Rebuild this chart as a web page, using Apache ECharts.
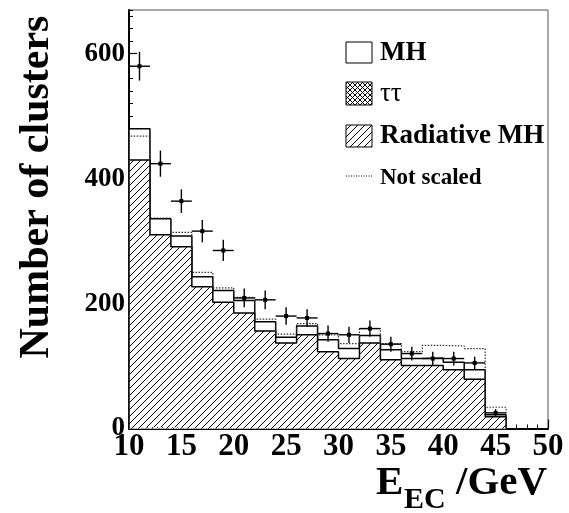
<!DOCTYPE html>
<html>
<head>
<meta charset="utf-8">
<script src="https://cdn.jsdelivr.net/npm/echarts@6/dist/echarts.min.js"></script>
<style>
html,body{margin:0;padding:0;background:#fff;}
#chart{width:569px;height:513px;}
</style>
</head>
<body>
<div id="chart"></div>
<script>
// ---- data ----
const binEdges = [10,12,14,16,18,20,22,24,26,28,30,32,34,36,38,40,42,44,46];
const stackTotal = [480,336,308,243,221,205,171,146,164,142,128,149,126,112,113,106,94,22];
const radiativeMH = [430,310,291,227,202,185,156,137,150,123,112,137,110,101,101,94,79,19];
const tautau = [2,2,1,1,1,1,1,1,1,1,1,1,1,1,1,1,1,0];
const notScaled = [468,337,314,250,225,210,175,151,168,150,136,160,136,123,133,132,128,34];
const dataCounts = [580,424,364,316,285,209,206,180,177,152,150,160,135,120,112,112,105,25];
const dataErrors = [23,21,19,18,17,15,15,14,14,13,13,13,12,11,11,11,10,6];
const xTickLabels = [10,15,20,25,30,35,40,45,50];
const yTickLabels = [0,200,400,600];
const legendLabels = ['MH','\u03c4\u03c4','Radiative MH','Not scaled'];

const FONT = '"Liberation Serif","Times New Roman",serif';

function makePattern(size, cross){
  const c = document.createElement('canvas');
  c.width = size; c.height = size;
  const g = c.getContext('2d');
  g.fillStyle = '#fff'; g.fillRect(0,0,size,size);
  g.strokeStyle = '#000'; g.lineWidth = 1;
  g.beginPath();
  g.moveTo(-1,size+1); g.lineTo(size+1,-1);
  if (cross){ g.moveTo(-1,-1); g.lineTo(size+1,size+1); }
  g.stroke();
  return c;
}
const hatch = {image: makePattern(7,false), repeat:'repeat'};
const crossHatch = {image: makePattern(5,true), repeat:'repeat'};

function stepPoints(vals){
  const pts = [[binEdges[0],0]];
  vals.forEach((v,i)=>pts.push([binEdges[i],v]));
  pts.push([binEdges[binEdges.length-1],0]);
  return pts;
}

const chart = echarts.init(document.getElementById('chart'), null, {renderer:'canvas'});

const dataPts = dataCounts.map((v,i)=>[(binEdges[i]+binEdges[i+1])/2, v, dataErrors[i], (binEdges[i+1]-binEdges[i])/2]);

const option = {
  animation:false,
  backgroundColor:'#fff',
  grid:{left:129,right:21,top:10,bottom:84.5,show:true,borderColor:'#555',borderWidth:1,backgroundColor:'transparent'},
  xAxis:{
    type:'value',min:xTickLabels[0],max:xTickLabels[xTickLabels.length-1],interval:5,
    axisLine:{show:true,lineStyle:{color:'#000',width:2}},
    axisTick:{show:true,inside:true,length:9,lineStyle:{color:'#000',width:1.2}},
    minorTick:{show:true,splitNumber:5,length:4,lineStyle:{color:'#000',width:1}},
    splitLine:{show:false},
    axisLabel:{color:'#000',fontFamily:FONT,fontWeight:'bold',fontSize:31,margin:3,
      formatter:v=>xTickLabels.indexOf(v)>=0?String(v):''}
  },
  yAxis:[{
    type:'value',min:0,max:670,interval:200,
    axisLine:{show:true,lineStyle:{color:'#000',width:2}},
    axisTick:{show:true,inside:true,length:8,lineStyle:{color:'#000',width:1.2}},
    splitLine:{show:false},
    axisLabel:{color:'#000',fontFamily:FONT,fontWeight:'bold',fontSize:27,margin:4,showMaxLabel:false,
      formatter:v=>yTickLabels.indexOf(v)>=0?String(v):''}
  },{
    type:'value',min:0,max:670,interval:20,position:'left',
    axisLine:{show:false},
    axisTick:{show:true,inside:true,length:4,lineStyle:{color:'#000',width:1}},
    splitLine:{show:false},
    axisLabel:{show:false}
  }],
  graphic:[
    {type:'text',x:37,y:187,rotation:Math.PI/2,z:100,
      style:{text:'Number of clusters',font:'bold 42px '+FONT,fill:'#000',textAlign:'center',textVerticalAlign:'middle'}},
    {type:'text',x:376,y:483,z:100,style:{text:'E',font:'bold 41px '+FONT,fill:'#000',textAlign:'left',textVerticalAlign:'middle'}},
    {type:'text',x:404,y:500,z:100,style:{text:'EC',font:'bold 30px '+FONT,fill:'#000',textAlign:'left',textVerticalAlign:'middle'}},
    {type:'text',x:456,y:483,z:100,style:{text:'/GeV',font:'bold 41px '+FONT,fill:'#000',textAlign:'left',textVerticalAlign:'middle'}},
    // legend
    {type:'rect',z:100,shape:{x:346,y:42,width:26,height:21},style:{fill:'#fff',stroke:'#000',lineWidth:1}},
    {type:'text',x:380,y:53,z:100,style:{text:legendLabels[0],font:'bold 27px '+FONT,fill:'#000',textAlign:'left',textVerticalAlign:'middle'}},
    {type:'rect',z:100,shape:{x:346,y:82,width:26,height:23},style:{fill:crossHatch,stroke:'#000',lineWidth:1}},
    {type:'text',x:380,y:94,z:100,style:{text:legendLabels[1],font:'27px '+FONT,fill:'#000',textAlign:'left',textVerticalAlign:'middle'}},
    {type:'rect',z:100,shape:{x:346,y:125,width:26,height:22},style:{fill:hatch,stroke:'#000',lineWidth:1}},
    {type:'text',x:380,y:136,z:100,style:{text:legendLabels[2],font:'bold 27px '+FONT,fill:'#000',textAlign:'left',textVerticalAlign:'middle'}},
    {type:'line',z:100,shape:{x1:346,y1:176,x2:372,y2:176},style:{stroke:'#000',lineWidth:1,lineDash:[1,1.5]}},
    {type:'text',x:380,y:178,z:100,style:{text:legendLabels[3],font:'bold 23px '+FONT,fill:'#000',textAlign:'left',textVerticalAlign:'middle'}}
  ],
  series:[
    {name:'MH',type:'line',step:'end',data:stepPoints(stackTotal),showSymbol:false,z:2,
      lineStyle:{color:'#000',width:1.5},areaStyle:{color:'#fff',opacity:1}},
    {name:'Radiative MH',type:'line',step:'end',data:stepPoints(radiativeMH),showSymbol:false,z:3,
      lineStyle:{color:'#000',width:1.5},areaStyle:{color:hatch,opacity:1}},
    {name:'tautau',type:'line',step:'end',data:stepPoints(tautau),showSymbol:false,z:4,
      lineStyle:{width:0},areaStyle:{color:crossHatch,opacity:1}},
    {name:'Not scaled',type:'line',step:'end',data:stepPoints(notScaled),showSymbol:false,z:5,
      lineStyle:{color:'#333',width:1.2,type:[1.5,1.5]}},
    {name:'Data',type:'custom',z:6,data:dataPts,
      renderItem:function(params,api){
        const c=api.value(0),v=api.value(1),e=api.value(2),h=api.value(3);
        const pL=api.coord([c-h,v]),pR=api.coord([c+h,v]),pT=api.coord([c,v+e]),pB=api.coord([c,v-e]),p=api.coord([c,v]);
        return {type:'group',children:[
          {type:'line',shape:{x1:pL[0],y1:pL[1],x2:pR[0],y2:pR[1]},style:{stroke:'#000',lineWidth:1.4}},
          {type:'line',shape:{x1:pT[0],y1:pT[1],x2:pB[0],y2:pB[1]},style:{stroke:'#000',lineWidth:1.4}},
          {type:'rect',shape:{x:p[0]-2,y:p[1]-2,width:4,height:4},style:{fill:'#000'}}
        ]};
      }}
  ]
};
chart.setOption(option);
</script>
</body>
</html>
